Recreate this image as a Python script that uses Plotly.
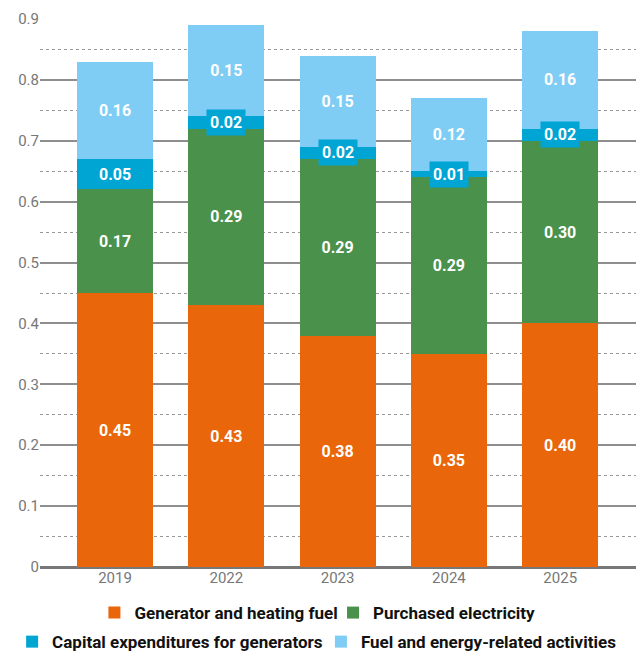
import plotly.graph_objects as go

years = ["2019", "2022", "2023", "2024", "2025"]
heating_fuel = [0.45, 0.43, 0.38, 0.35, 0.40]
electricity = [0.17, 0.29, 0.29, 0.29, 0.30]
generator_capex = [0.05, 0.02, 0.02, 0.01, 0.02]
energy_activities = [0.16, 0.15, 0.15, 0.12, 0.16]

series_names = [
    "Generator and heating fuel",
    "Purchased electricity",
    "Capital expenditures for generators",
    "Fuel and energy-related activities",
]
colors = ["#EA660A", "#4A914C", "#00A5D3", "#7FCDF4"]

FONT = "Roboto"
label_font = dict(family=FONT, size=16, color="white", weight="bold")
legend_font = dict(family=FONT, size=17, color="#111", weight="bold")

# One legend box per series so the two legend rows are laid out independently
legend_ids = ["legend", "legend2", "legend3", "legend4"]
legend_x = [0.148, 0.522, 0.019, 0.503]   # left edges, fraction of page width
legend_y = [-0.084, -0.084, -0.137, -0.137]

fig = go.Figure()

series = [heating_fuel, electricity, generator_capex, energy_activities]
for name, vals, col, lg in zip(series_names, series, colors, legend_ids):
    show_text = name != "Capital expenditures for generators"
    fig.add_trace(go.Bar(
        x=years, y=vals, name=name, legend=lg,
        marker=dict(color=col, line=dict(width=0)),
        text=[f"{v:.2f}" for v in vals] if show_text else None,
        textposition="inside" if show_text else "none",
        insidetextanchor="middle",
        textfont=label_font,
        hoverinfo="skip",
    ))

# Badge labels for the thin capex segments, centred on each segment
for i, yr in enumerate(years):
    base = heating_fuel[i] + electricity[i]
    mid = base + generator_capex[i] / 2
    fig.add_annotation(
        x=i, y=mid, xref="x", yref="y",
        text=f"{generator_capex[i]:.2f}",
        showarrow=False, font=label_font,
        bgcolor=colors[2], borderpad=3,
    )

legend_layout = {
    lg: dict(
        orientation="h", xref="container", x=lx, xanchor="left",
        y=ly, yanchor="middle", font=legend_font, itemwidth=30,
        bgcolor="rgba(0,0,0,0)",
    )
    for lg, lx, ly in zip(legend_ids, legend_x, legend_y)
}

fig.update_layout(
    barmode="stack",
    bargap=0.317,
    width=638, height=654,
    margin=dict(l=40, r=2, t=19, b=87, autoexpand=False),
    plot_bgcolor="white", paper_bgcolor="white",
    font=dict(family=FONT),
    uniformtext=dict(mode="show", minsize=16),
    showlegend=True,
    **legend_layout,
)

fig.update_xaxes(
    type="category",
    range=[-0.674, 4.681],
    showgrid=False, showline=False, ticks="",
    tickfont=dict(family=FONT, size=15, color="#777"),
)
fig.update_yaxes(
    range=[0, 0.9], dtick=0.1, tickformat="~g",
    showgrid=True, gridcolor="#8e8e8e", gridwidth=1.5,
    zeroline=True, zerolinecolor="#777", zerolinewidth=2.5,
    showline=False, ticks="",
    tickfont=dict(family=FONT, size=15, color="#777"),
    minor=dict(dtick=0.05, showgrid=True, gridcolor="#999", gridwidth=1, griddash="dot"),
)

fig.write_html("out.html")
